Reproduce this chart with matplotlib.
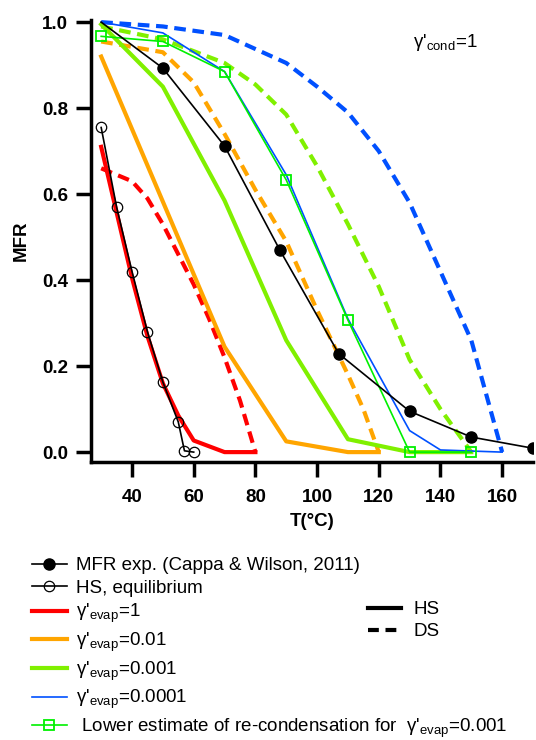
import matplotlib
matplotlib.use("Agg")
import matplotlib.pyplot as plt
from matplotlib.lines import Line2D

plt.rcParams['font.family'] = ['Liberation Sans', 'DejaVu Sans']
plt.rcParams['mathtext.default'] = 'regular'

# MFR experimental (Cappa & Wilson, 2011)
T_exp = [30, 50, 70, 88, 107, 130, 150, 170]
MFR_exp = [1.0, 0.893, 0.712, 0.469, 0.229, 0.095, 0.035, 0.009]

# HS equilibrium
T_eq = [30, 35, 40, 45, 50, 55, 57, 60]
MFR_eq = [0.755, 0.57, 0.42, 0.28, 0.163, 0.07, 0.003, 0.0]

# gamma_evap = 1
T_r_hs = [30, 40, 45, 50, 55, 60, 70, 80]
MFR_r_hs = [0.71, 0.405, 0.27, 0.16, 0.085, 0.027, 0.0, 0.0]
T_r_ds = [30, 35, 40, 45, 50, 55, 60, 65, 70, 75, 80]
MFR_r_ds = [0.66, 0.645, 0.63, 0.59, 0.53, 0.46, 0.39, 0.31, 0.22, 0.12, 0.0]

# gamma_evap = 0.01
T_o_hs = [30, 70, 90, 110, 120]
MFR_o_hs = [0.92, 0.245, 0.025, 0.0, 0.0]
T_o_ds = [30, 50, 60, 70, 80, 90, 100, 110, 115, 120]
MFR_o_ds = [0.955, 0.93, 0.86, 0.74, 0.61, 0.49, 0.33, 0.18, 0.1, 0.0]

# gamma_evap = 0.001
T_g_hs = [30, 50, 70, 90, 110, 130, 150]
MFR_g_hs = [0.995, 0.85, 0.585, 0.26, 0.03, 0.0, 0.0]
T_g_ds = [30, 50, 70, 80, 90, 100, 110, 120, 130, 140, 150]
MFR_g_ds = [0.99, 0.96, 0.905, 0.855, 0.785, 0.665, 0.53, 0.385, 0.215, 0.1, 0.0]

# gamma_evap = 0.0001
T_b_hs = [30, 50, 70, 90, 110, 130, 140, 160]
MFR_b_hs = [1.0, 0.975, 0.885, 0.645, 0.31, 0.05, 0.005, 0.0]
T_b_ds = [30, 50, 70, 90, 100, 110, 120, 130, 140, 150, 160]
MFR_b_ds = [1.0, 0.99, 0.97, 0.905, 0.85, 0.79, 0.7, 0.58, 0.42, 0.26, 0.0]

# Lower estimate of re-condensation for gamma_evap = 0.001
T_rc = [30, 50, 70, 90, 110, 130, 150]
MFR_rc = [0.967, 0.955, 0.885, 0.633, 0.307, 0.0, 0.0]

RED = '#FF0000'
ORANGE = '#FFA500'
GREEN = '#80F000'
BLUE = '#0050FF'
LGREEN = '#00F000'

FS = 13.5

fig = plt.figure(figsize=(5.36, 7.4), dpi=100)
ax = fig.add_axes([91/536, 1-462/740, (533-91)/536, (462-20)/740])

dash = (2.8, 1.6)
thick = 3.0
ax.plot(T_b_ds, MFR_b_ds, color=BLUE, lw=thick, dashes=dash)
ax.plot(T_g_ds, MFR_g_ds, color=GREEN, lw=thick, dashes=dash)
ax.plot(T_o_ds, MFR_o_ds, color=ORANGE, lw=thick, dashes=dash)
ax.plot(T_r_ds, MFR_r_ds, color=RED, lw=thick, dashes=dash)
ax.plot(T_o_hs, MFR_o_hs, color=ORANGE, lw=thick)
ax.plot(T_g_hs, MFR_g_hs, color=GREEN, lw=thick)
ax.plot(T_r_hs, MFR_r_hs, color=RED, lw=thick)
ax.plot(T_b_hs, MFR_b_hs, color=BLUE, lw=1.2)
ax.plot(T_rc, MFR_rc, color=LGREEN, lw=1.2, marker='s', ms=7.5, mfc='none', mec=LGREEN, mew=1.3)
ax.plot(T_eq, MFR_eq, color='black', lw=1.2, marker='o', ms=7.5, mfc='none', mec='black', mew=0.9)
ax.plot(T_exp, MFR_exp, color='black', lw=1.2, marker='o', ms=8, mfc='black', mec='black',
        markevery=list(range(1, len(T_exp))))

ax.set_xlim(26.7, 170)
ax.set_ylim(-0.023, 1.005)
ax.set_xticks([40, 60, 80, 100, 120, 140, 160])
ax.set_yticks([0.0, 0.2, 0.4, 0.6, 0.8, 1.0])
ax.set_yticklabels(['0.0', '0.2', '0.4', '0.6', '0.8', '1.0'])
for s in ['top', 'right']:
    ax.spines[s].set_visible(False)
for s in ['left', 'bottom']:
    ax.spines[s].set_linewidth(2.5)
ax.tick_params(axis='both', length=10.5, width=2.5, labelsize=FS)
ax.tick_params(axis='x', pad=9)
ax.tick_params(axis='y', pad=6)
for lab in ax.get_xticklabels() + ax.get_yticklabels():
    lab.set_fontweight('bold')
ax.set_xlabel('T(°C)', fontsize=FS, fontweight='bold', labelpad=5)
ax.set_ylabel('MFR', fontsize=FS, fontweight='bold', labelpad=9)

ax.text(0.728, 0.948, "γ'$_{cond}$=1", transform=ax.transAxes, fontsize=FS, ha='left', va='center')

handles = [
    Line2D([], [], color='black', lw=1.2, marker='o', ms=8, mfc='black'),
    Line2D([], [], color='black', lw=1.2, marker='o', ms=7.5, mfc='none', mew=0.9),
    Line2D([], [], color=RED, lw=thick),
    Line2D([], [], color=ORANGE, lw=thick),
    Line2D([], [], color=GREEN, lw=thick),
    Line2D([], [], color=BLUE, lw=1.2),
    Line2D([], [], color=LGREEN, lw=1.2, marker='s', ms=7.5, mfc='none', mec=LGREEN, mew=1.3),
]
labels = [
    'MFR exp. (Cappa & Wilson, 2011)',
    'HS, equilibrium',
    "γ'$_{evap}$=1",
    "γ'$_{evap}$=0.01",
    "γ'$_{evap}$=0.001",
    "γ'$_{evap}$=0.0001",
    " Lower estimate of re-condensation for  γ'$_{evap}$=0.001",
]
fig.legend(handles, labels, loc='upper left', bbox_to_anchor=(32/536, 1-557/740),
           frameon=False, fontsize=FS, handlelength=1.85, handletextpad=0.5,
           labelspacing=0.29, borderaxespad=0, borderpad=0)

h2 = [Line2D([], [], color='black', lw=3), Line2D([], [], color='black', lw=3, dashes=(2.6, 1.6))]
fig.legend(h2, ['HS', 'DS'], loc='upper left', bbox_to_anchor=(368/536, 1-601/740),
           frameon=False, fontsize=FS, handlelength=1.75, handletextpad=0.7,
           labelspacing=0.28, borderaxespad=0, borderpad=0)

fig.savefig('out.png', dpi=100)
